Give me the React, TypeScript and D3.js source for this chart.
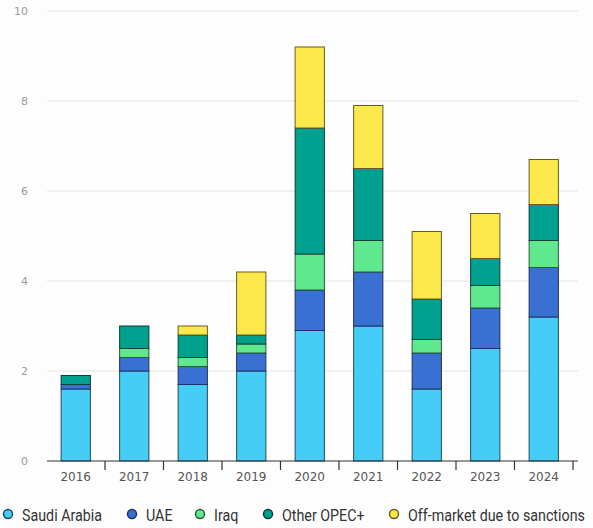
import React from "react";
import * as d3 from "d3";

const years = ["2016", "2017", "2018", "2019", "2020", "2021", "2022", "2023", "2024"];
const seriesNames = ["Saudi Arabia", "UAE", "Iraq", "Other OPEC+", "Off-market due to sanctions"];
const saudi = [1.6, 2.0, 1.7, 2.0, 2.9, 3.0, 1.6, 2.5, 3.2];
const uae = [0.1, 0.3, 0.4, 0.4, 0.9, 1.2, 0.8, 0.9, 1.1];
const iraq = [0.0, 0.2, 0.2, 0.2, 0.8, 0.7, 0.3, 0.5, 0.6];
const otherOpec = [0.2, 0.5, 0.5, 0.2, 2.8, 1.6, 0.9, 0.6, 0.8];
const offMarket = [0.0, 0.0, 0.2, 1.4, 1.8, 1.4, 1.5, 1.0, 1.0];
const yTicks = [0, 2, 4, 6, 8, 10];
const colors = ["#45cdf8", "#3a6fd3", "#5fe88e", "#00a08f", "#fbe94b"];
const strokes = ["#1f4a5a", "#1d3360", "#2a5a3a", "#0f3d38", "#6a5a20"];

const W = 593;
const H = 528;

export default function App() {
  const keys = ["s0", "s1", "s2", "s3", "s4"];
  const table = years.map((y, i) => ({
    year: y,
    s0: saudi[i],
    s1: uae[i],
    s2: iraq[i],
    s3: otherOpec[i],
    s4: offMarket[i],
  }));
  const stacked = d3.stack<any>().keys(keys)(table);
  const x = d3.scaleBand().domain(years).range([46.5, 573]).paddingInner(0.5).paddingOuter(0.25);
  const xb = d3.scaleBand().domain(years).range([46.5, 573]);
  const y = d3.scaleLinear().domain([0, 10]).range([461, 11]);
  const legendX = [8, 132, 200, 268, 394];
  const sx = 0.84;

  return (
    <svg
      width={W}
      height={H}
      style={{ position: "absolute", left: 0, top: 0, background: "#fdfdfd" }}
      fontFamily="'DejaVu Sans', sans-serif"
    >
      {yTicks.map((t) => (
        <g key={t}>
          {t > 0 && <line x1={47} x2={578} y1={y(t)} y2={y(t)} stroke="#e4e4e4" strokeWidth={1} />}
          <text x={28} y={y(t)} dy="0.35em" textAnchor="end" fontSize={11} fill="#9a9a9a">
            {t}
          </text>
        </g>
      ))}
      {stacked.map((layer, li) => (
        <g key={li}>
          {layer.map((d, i) =>
            d[1] - d[0] > 0 ? (
              <rect
                key={i}
                x={x(years[i])}
                width={x.bandwidth()}
                y={y(d[1])}
                height={y(d[0]) - y(d[1])}
                fill={colors[li]}
                stroke={strokes[li]}
                strokeWidth={1}
              />
            ) : null
          )}
        </g>
      ))}
      <line x1={47} x2={578} y1={461} y2={461} stroke="#333" strokeWidth={1.2} />
      {years.map((yr) => (
        <g key={yr}>
          <line
            x1={(xb(yr) as number) + xb.bandwidth()}
            x2={(xb(yr) as number) + xb.bandwidth()}
            y1={461}
            y2={470}
            stroke="#333"
            strokeWidth={1.2}
          />
          <text
            x={(xb(yr) as number) + xb.bandwidth() / 2}
            y={477}
            dy="0.35em"
            textAnchor="middle"
            fontSize={12}
            fill="#555"
          >
            {yr}
          </text>
        </g>
      ))}
      {seriesNames.map((n, i) => (
        <g key={n}>
          <circle cx={legendX[i]} cy={514} r={4.5} fill={colors[i]} stroke={strokes[i]} strokeWidth={1.5} />
          <g transform={`translate(${legendX[i] + 14},515) scale(${sx},1)`}>
            <text
              x={0}
              y={0}
              dy="0.35em"
              fontSize={17}
              fill="#333"
              fontFamily="'Roboto', sans-serif"
            >
              {n}
            </text>
          </g>
        </g>
      ))}
    </svg>
  );
}
